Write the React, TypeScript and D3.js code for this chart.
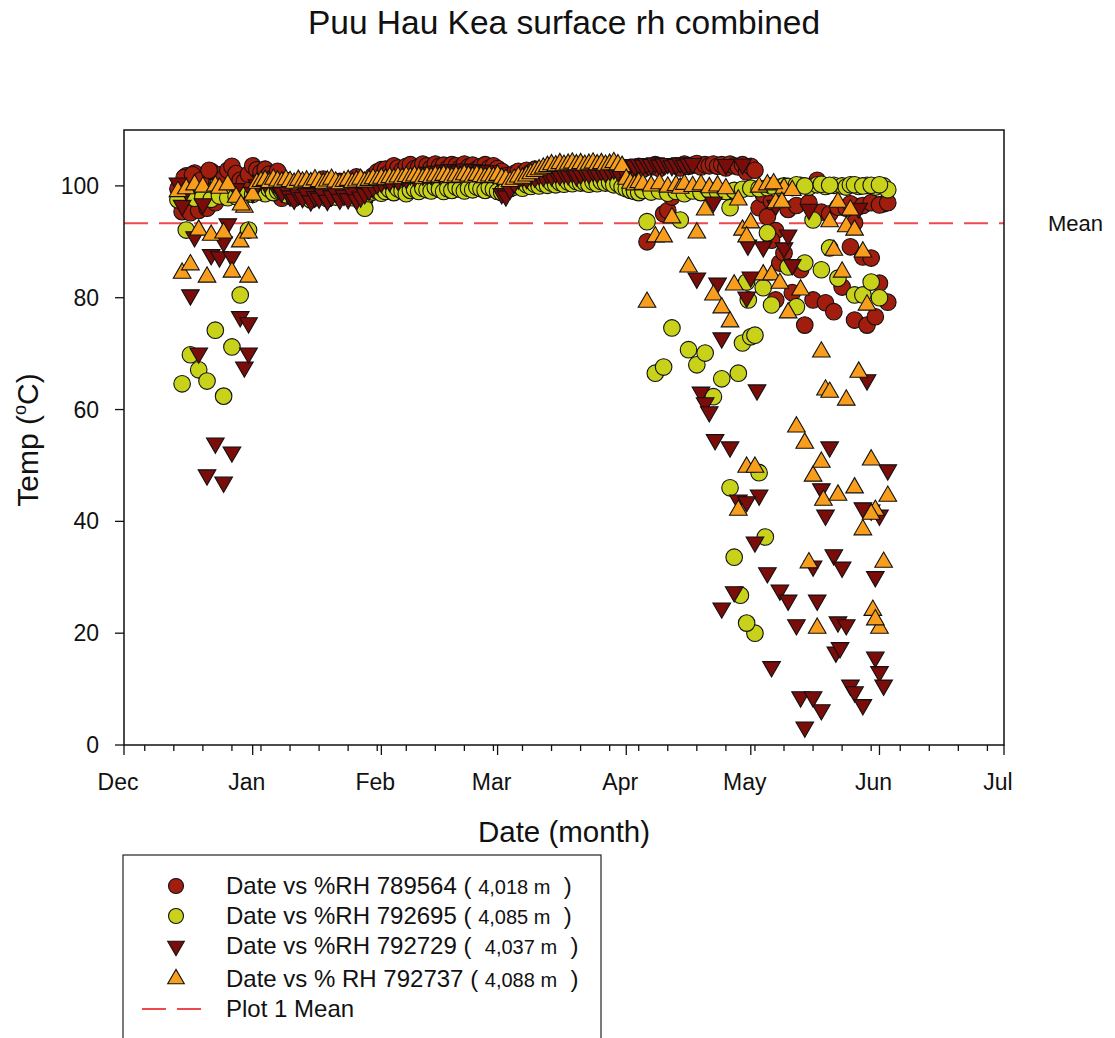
import React from 'react';
import * as d3 from 'd3';

const W = 1115;
const H = 1038;
const PLOT = { left: 124, right: 1004, top: 130, bottom: 745 };

// Season: 1 Dec 2012 .. 1 Jul 2013; day offsets count from 1 Dec
const seasonStart = Date.UTC(2012, 11, 1);
const seasonEnd = Date.UTC(2013, 6, 1);
const firstDay = 13; // first daily value = 14 Dec
const yDomain = [0, 110];
const yTicks = [0, 20, 40, 60, 80, 100];
const meanValue = 93.3;

// ---- Series 1: %RH 789564 (4,018 m) — daily values from 14 Dec
const rh789564Daily = [
  99.5, 95.4, 101.8, 95.2, 102.3, 95.6, 101.2, 96.0, 102.6, 97.0,
  102.0, 101.4, 102.8, 103.5, 102.2, 101.0, 100.8, 102.1, 103.6, 102.9,
  102.4, 103.0, 102.1, 101.5, 102.6, 97.8, 101.0, 99.5, 100.2, 98.8,
  99.0, 98.2, 100.5, 99.8, 98.5, 101.2, 100.0, 98.7, 99.6, 100.8,
  99.2, 98.4, 100.4, 101.6, 99.0, 97.6, 100.9, 101.8, 102.5, 102.9,
  103.0, 102.4, 103.6, 103.2, 102.8, 103.5, 103.8, 103.1, 103.4, 103.9,
  103.6, 103.2, 103.9, 103.5, 103.7, 103.1, 103.8, 103.6, 103.2, 103.9,
  103.4, 103.7, 103.0, 103.5, 103.8, 103.2, 103.6, 103.1, 102.6, 101.8,
  101.5, 102.2, 102.6, 101.9, 102.8, 102.4, 103.0, 102.1, 102.5, 101.7,
  102.0, 101.6, 102.3, 101.9, 102.5, 102.0, 101.8, 102.4, 101.5, 102.1,
  101.8, 102.2, 101.6, 102.0, 102.5, 101.9, 102.3, 102.8, 103.2, 103.0,
  103.2, 103.5, 103.0, 90.0, 103.4, 103.8, 103.1, 95.0, 95.6, 98.0,
  103.6, 103.2, 103.9, 103.5, 103.7, 104.0, 103.4, 103.8, 103.6, 103.9,
  103.5, 103.8, 103.2, 103.9, 103.6, 103.4, 103.8, 102.5, 103.5, 102.8,
  96.1, 98.5, 94.5, 97.2, 92.0, 86.2, 88.0, 95.8, 80.9, 96.5,
  85.0, 75.1, 97.0, 79.6, 101.0, 95.3, 79.1, 95.0, 77.5, 96.2,
  81.9, 96.0, 89.1, 76.0, 96.3, 87.3, 75.1, 87.1, 76.6, 82.6,
  96.8, 79.2,
];
const rh789564ExtraDays = [14.5, 16.5, 18.5, 20.5, 156, 157, 175, 176, 178, 180, 182, 184];
const rh789564ExtraVals = [101.5, 102.0, 101.0, 102.8, 90.3, 79.6, 96.8, 93.4, 96.5, 97.0, 96.6, 97.0];

// ---- Series 2: %RH 792695 (4,085 m)
const rh792695Daily = [
  97.5, 64.6, 92.1, 69.8, 97.8, 67.1, 98.0, 65.1, 97.6, 74.2,
  98.2, 62.4, 97.9, 71.2, 98.1, 80.5, 98.3, 92.1, 98.5, 99.0,
  99.2, 98.6, 99.4, 98.8, 99.1, 99.0, 98.4, 98.9, 97.8, 98.6,
  98.2, 98.9, 97.5, 98.4, 99.0, 98.1, 97.7, 98.6, 98.0, 98.3,
  98.8, 98.1, 97.9, 98.5, 97.2, 96.0, 98.6, 98.9, 99.1, 98.7,
  99.0, 99.3, 98.8, 99.5, 99.1, 98.6, 99.2, 99.4, 99.0, 99.6,
  99.3, 99.1, 99.7, 99.4, 99.0, 99.5, 99.2, 99.8, 99.4, 99.1,
  99.6, 99.3, 99.8, 99.5, 99.2, 99.7, 99.4, 99.0, 98.8, 99.3,
  99.5, 99.8, 100.1, 99.6, 100.2, 99.9, 100.3, 100.0, 100.4, 100.1,
  100.5, 100.2, 100.6, 100.3, 100.7, 100.4, 100.8, 100.5, 100.6, 100.3,
  100.7, 100.4, 100.8, 100.5, 100.6, 100.2, 100.4, 99.8, 99.5, 99.2,
  99.0, 98.8, 99.2, 93.6, 98.9, 66.5, 99.1, 67.6, 98.7, 74.6,
  99.0, 93.9, 98.6, 70.7, 99.1, 68.0, 98.8, 70.1, 99.2, 62.3,
  98.9, 65.5, 99.0, 96.1, 33.6, 66.5, 71.9, 82.8, 73.0, 20.0,
  48.7, 81.8, 91.6, 78.7, 99.6, 99.8, 100.0, 85.5, 99.7, 78.4,
  100.1, 86.2, 99.8, 93.9, 100.2, 85.0, 99.9, 88.9, 100.1, 83.5,
  100.0, 99.8, 100.2, 80.5, 99.9, 80.5, 100.1, 82.8, 99.8, 80.0,
  100.0, 99.3,
];
const rh792695ExtraDays = [145, 146, 147, 148.5, 149, 150, 150.4, 151, 152, 153, 154.5, 155, 156, 160, 162, 164, 168, 170, 176, 178, 180, 182];
const rh792695ExtraVals = [99.0, 46.0, 99.2, 26.8, 99.4, 21.8, 79.6, 99.6, 73.3, 99.5, 37.2, 99.7, 100.0, 99.9, 100.2, 100.0, 100.3, 100.1, 100.2, 100.0, 100.1, 100.2];

// ---- Series 3: %RH 792729 (4,037 m)
const rh792729Daily = [
  100.5, 96.5, 99.2, 80.5, 90.9, 70.1, 96.8, 48.3, 87.7, 54.0,
  87.3, 47.0, 93.2, 52.4, 99.5, 76.6, 67.6, 75.5, 98.8, 100.2,
  101.0, 100.6, 101.3, 100.4, 99.8, 98.9, 99.5, 98.2, 97.6, 98.4,
  97.9, 98.6, 97.3, 98.1, 97.8, 98.5, 97.4, 98.2, 98.9, 97.6,
  98.3, 97.7, 98.8, 97.5, 98.0, 98.6, 99.2, 99.8, 100.3, 100.6,
  101.2, 100.8, 101.5, 101.0, 101.8, 101.3, 102.0, 101.6, 102.2, 101.9,
  102.4, 102.0, 102.6, 102.2, 102.8, 102.4, 102.9, 102.5, 102.7, 103.0,
  102.6, 102.9, 102.4, 102.8, 102.5, 102.7, 102.2, 101.8, 98.6, 98.2,
  99.4, 100.5, 101.2, 101.6, 101.3, 101.8, 101.5, 102.0, 101.7, 102.1,
  101.8, 102.3, 101.9, 102.2, 102.0, 102.4, 101.8, 102.1, 102.5, 102.2,
  102.6, 102.3, 102.7, 102.4, 102.8, 103.0, 102.6, 103.2, 103.5, 103.8,
  103.6, 103.9, 103.7, 104.0, 103.8, 104.1, 103.7, 103.9, 104.0, 103.6,
  103.8, 104.1, 103.7, 103.9, 104.0, 83.5, 63.1, 61.2, 59.6, 97.1,
  82.6, 72.8, 103.8, 53.3, 27.4, 43.8, 103.9, 80.1, 83.7, 36.3,
  44.7, 89.1, 30.8, 14.0, 96.5, 27.7, 88.9, 25.9, 85.9, 21.5,
  8.6, 3.2, 95.8, 32.0, 25.9, 6.3, 41.1, 53.3, 34.0, 22.0,
  31.8, 21.5, 10.7, 9.5, 96.0, 7.2, 65.3, 42.0, 30.1, 13.1,
  10.7, 49.2,
];
const rh792729ExtraDays = [24, 26, 30, 142.4, 144, 150, 150.3, 152.5, 160, 166, 168, 171.5, 172.5, 178, 181, 182];
const rh792729ExtraVals = [90.0, 87.3, 70.1, 54.6, 24.5, 43.5, 89.4, 63.5, 91.2, 8.6, 45.8, 16.6, 17.4, 42.4, 15.7, 41.1];

// ---- Series 4: % RH 792737 (4,088 m)
const rh792737Daily = [
  99.0, 84.4, 99.5, 85.9, 100.2, 92.1, 99.8, 83.7, 91.2, 100.0,
  99.6, 91.6, 100.2, 84.6, 98.0, 90.0, 96.2, 91.6, 98.4, 100.5,
  100.8, 101.0, 100.6, 101.2, 100.9, 100.7, 101.1, 100.8, 100.5, 101.0,
  100.7, 100.9, 100.6, 101.1, 100.8, 100.5, 100.9, 101.2, 100.7, 100.4,
  100.8, 101.0, 100.6, 100.9, 101.2, 100.7, 101.0, 101.3, 101.1, 101.4,
  101.2, 101.5, 101.3, 101.6, 101.4, 101.7, 101.5, 101.8, 101.6, 101.4,
  101.7, 101.5, 101.8, 101.6, 101.9, 101.7, 101.5, 101.8, 101.6, 102.0,
  101.8, 101.6, 101.9, 101.7, 101.5, 101.8, 101.6, 101.9, 101.4, 101.2,
  100.8, 101.2, 101.6, 101.4, 101.8, 102.2, 102.6, 102.9, 103.2, 103.5,
  103.8, 103.6, 104.0, 103.7, 103.9, 104.1, 103.8, 104.0, 103.7, 103.9,
  104.1, 103.8, 104.0, 103.7, 103.9, 104.2, 103.8, 103.5, 101.2, 100.5,
  100.2, 100.6, 100.3, 79.2, 100.0, 90.9, 100.4, 90.9, 99.8, 94.3,
  100.1, 99.6, 100.3, 85.5, 99.9, 91.6, 100.2, 95.7, 99.7, 80.5,
  100.0, 78.2, 99.5, 75.7, 82.3, 97.5, 92.1, 49.7, 93.4, 49.7,
  99.8, 84.1, 100.2, 84.1, 97.0, 82.6, 99.6, 77.3, 99.2, 56.9,
  81.4, 54.0, 32.6, 48.1, 20.9, 70.3, 63.5, 93.6, 88.5, 97.1,
  84.6, 92.7, 95.7, 46.0, 66.7, 38.5, 78.7, 51.0, 42.0, 20.9,
  32.7, 44.5,
];
const rh792737ExtraDays = [28.2, 30, 148, 150, 156.5, 158.5, 168, 168.5, 170, 172, 174, 176, 178, 180, 180.4, 181];
const rh792737ExtraVals = [96.6, 83.7, 42.0, 90.9, 100.4, 97.1, 50.6, 43.8, 63.1, 44.7, 61.7, 92.1, 88.2, 41.3, 24.1, 22.4];

const legendLabels = ['Date vs %RH 789564 ( ', 'Date vs %RH 792695 ( ', 'Date vs %RH 792729 (  ', 'Date vs % RH 792737 ( '];
const legendElev = ['4,018 m', '4,085 m', '4,037 m', '4,088 m'];

const FONT = "'Liberation Sans', Arial, Helvetica, sans-serif";

type Pt = { d: number; v: number };
function buildPoints(daily: number[], exDays: number[], exVals: number[]): Pt[] {
  const pts: Pt[] = daily.map((v, i) => ({ d: firstDay + i, v }));
  exDays.forEach((d, i) => pts.push({ d, v: exVals[i] }));
  return pts;
}

const series = [
  { pts: buildPoints(rh789564Daily, rh789564ExtraDays, rh789564ExtraVals), shape: 'circle', fill: '#A11D0E' },
  { pts: buildPoints(rh792695Daily, rh792695ExtraDays, rh792695ExtraVals), shape: 'circle', fill: '#C8D21A' },
  { pts: buildPoints(rh792729Daily, rh792729ExtraDays, rh792729ExtraVals), shape: 'down', fill: '#7A0C0A' },
  { pts: buildPoints(rh792737Daily, rh792737ExtraDays, rh792737ExtraVals), shape: 'up', fill: '#F89E1C' },
];

const x = d3.scaleUtc().domain([new Date(seasonStart), new Date(seasonEnd)]).range([PLOT.left, PLOT.right]);
const y = d3.scaleLinear().domain(yDomain).range([PLOT.bottom, PLOT.top]);
const dayToDate = (d: number) => new Date(seasonStart + d * 86400000);

const triPath = d3.symbol(d3.symbolTriangle, 135)() as string;
const triPathLegend = d3.symbol(d3.symbolTriangle, 120)() as string;

function Marker({ shape, fill, cx, cy, legend }: { shape: string; fill: string; cx: number; cy: number; legend?: boolean }) {
  if (shape === 'circle') {
    return <circle cx={cx} cy={cy} r={legend ? 7.5 : 8.3} fill={fill} stroke="#111" strokeWidth={1.1} />;
  }
  const p = legend ? triPathLegend : triPath;
  const rot = shape === 'down' ? ' rotate(180)' : '';
  return <path d={p} transform={`translate(${cx},${cy})${rot}`} fill={fill} stroke="#111" strokeWidth={1.1} />;
}

export default function App() {
  const months = d3.utcMonth.range(new Date(seasonStart), new Date(seasonEnd + 1));
  const minorTicks = d3.utcDay.range(dayToDate(5), new Date(seasonEnd), 7);
  const fmt = d3.utcFormat('%b');
  const legendRows = [886, 916, 946, 979];

  return (
    <svg width={W} height={H} style={{ position: 'absolute', left: 0, top: 0, background: '#fff' }} fontFamily={FONT}>
      <rect x={0} y={0} width={W} height={H} fill="#fff" />
      <text x={564} y={34} textAnchor="middle" fontSize={33.5} fill="#111">Puu Hau Kea surface rh combined</text>

      {/* mean line */}
      <line x1={PLOT.left} x2={PLOT.right} y1={y(meanValue)} y2={y(meanValue)} stroke="#EE4A4E" strokeWidth={2} strokeDasharray="24,11" />
      <text x={1048} y={y(meanValue) + 8} fontSize={22} fill="#111">Mean</text>

      {/* points */}
      {series.map((s, si) => (
        <g key={si}>
          {s.pts.map((p, i) => (
            <Marker key={i} shape={s.shape} fill={s.fill} cx={x(dayToDate(p.d))} cy={y(p.v)} />
          ))}
        </g>
      ))}

      {/* frame */}
      <rect x={PLOT.left} y={PLOT.top} width={PLOT.right - PLOT.left} height={PLOT.bottom - PLOT.top} fill="none" stroke="#111" strokeWidth={1.5} />

      {/* y axis */}
      {yTicks.map((t) => (
        <g key={t}>
          <line x1={PLOT.left - 9} x2={PLOT.left} y1={y(t)} y2={y(t)} stroke="#111" strokeWidth={1.3} />
          <text x={99} y={y(t) + 8} textAnchor="end" fontSize={23} fill="#111">{t}</text>
        </g>
      ))}

      {/* x axis */}
      {minorTicks.map((t, i) => (
        <line key={'m' + i} x1={x(t)} x2={x(t)} y1={PLOT.bottom} y2={PLOT.bottom + 6} stroke="#111" strokeWidth={1.3} />
      ))}
      {months.map((m, i) => (
        <g key={i}>
          <line x1={x(m)} x2={x(m)} y1={PLOT.bottom} y2={PLOT.bottom + 10} stroke="#111" strokeWidth={1.3} />
          <text x={x(m) - 6} y={790} textAnchor="middle" fontSize={23} fill="#111">{fmt(m)}</text>
        </g>
      ))}

      <text x={564} y={842} textAnchor="middle" fontSize={29.5} fill="#111">Date (month)</text>
      <text transform="translate(38,440) rotate(-90)" textAnchor="middle" fontSize={30} fill="#111">
        Temp (<tspan dy={-12} fontSize={18}>o</tspan><tspan dy={12}>C)</tspan>
      </text>

      {/* legend */}
      <rect x={123} y={855} width={478} height={200} fill="#fff" stroke="#222" strokeWidth={1.2} />
      {series.map((s, i) => (
        <g key={'lg' + i}>
          <Marker shape={s.shape} fill={s.fill} cx={176} cy={legendRows[i]} legend />
          <text x={226} y={legendRows[i] + 8} fontSize={24} fill="#111" style={{ whiteSpace: 'pre' }}>
            {legendLabels[i]}
            <tspan fontSize={20}>{legendElev[i]}</tspan>
            <tspan fontSize={24}>{'  )'}</tspan>
          </text>
        </g>
      ))}
      <line x1={142} x2={201} y1={1009} y2={1009} stroke="#EE4A4E" strokeWidth={2} strokeDasharray="24,11" />
      <text x={226} y={1017} fontSize={24} fill="#111">Plot 1 Mean</text>
    </svg>
  );
}
